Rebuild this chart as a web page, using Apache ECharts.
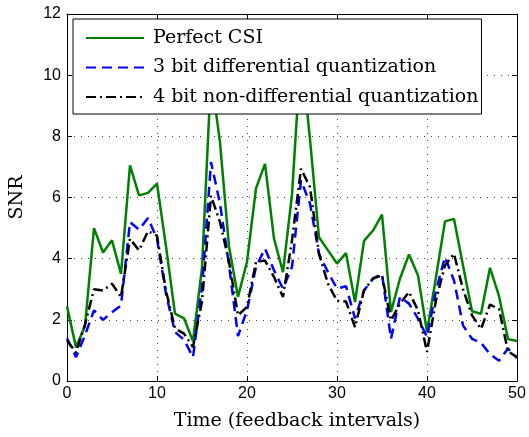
<!DOCTYPE html>
<html><head><meta charset="utf-8">
<script src="https://cdn.jsdelivr.net/npm/echarts@6/dist/echarts.min.js"></script>
<style>html,body{margin:0;padding:0;background:#fff}#c{width:529px;height:437px}</style>
</head><body><div id="c"></div>
<script>
// x values (feedback intervals)
const time = [0,1,2,3,4,5,6,7,8,9,10,11,12,13,14,15,16,17,18,19,20,21,22,23,24,25,26,27,28,29,30,31,32,33,34,35,36,37,38,39,40,41,42,43,44,45,46,47,48,49,50];
// SNR series
const perfectCSI = [2.44,1.1,1.8,5.0,4.2,4.6,3.5,7.05,6.07,6.15,6.45,4.4,2.2,2.05,1.3,3.7,10.0,7.8,4.4,2.75,3.9,6.3,7.1,4.65,3.56,6.1,10.8,7.9,4.7,4.27,3.84,4.18,2.58,4.58,4.92,5.44,2.26,3.35,4.14,3.45,1.6,3.4,5.22,5.3,3.78,2.28,2.2,3.7,2.78,1.37,1.31];
const diff3bit = [1.4,0.78,1.5,2.31,2.0,2.25,2.47,5.2,4.95,5.33,4.65,2.85,1.6,1.35,0.78,3.07,7.16,5.8,3.8,1.47,2.31,3.73,4.33,3.62,3.02,3.73,6.56,5.8,4.16,3.56,3.02,3.1,2.05,2.96,3.35,3.51,1.38,2.75,2.53,2.04,1.44,2.96,4.05,3.29,1.82,1.38,1.25,0.88,0.66,1.06,0.75];
const nondiff4bit = [1.33,0.93,1.85,3.0,2.96,3.18,2.75,4.65,4.27,4.9,4.75,2.95,1.72,1.55,1.11,2.6,6.05,5.2,3.9,2.15,2.42,3.89,3.94,3.4,2.75,4.6,6.94,6.34,4.16,3.18,2.62,2.6,1.76,2.96,3.35,3.45,1.98,2.53,2.91,2.31,0.95,2.64,3.78,4.16,3.0,2.15,1.7,2.5,2.35,0.97,0.78];
const seriesNames = ['Perfect CSI','3 bit differential quantization','4 bit non-differential quantization'];
const xMin = 0, xMax = 50, xStep = 10;
const yMin = 0, yMax = 12, yStep = 2;

const serif = '"DejaVu Serif", "Liberation Serif", serif';
const sans = '"Liberation Sans", Arial, sans-serif';
const chart = echarts.init(document.getElementById('c'), null, {renderer: 'canvas'});
const pairs = arr => time.map((t, i) => [t, arr[i]]);
const axisLine = {show: true, onZero: false, lineStyle: {color: '#000', width: 1}};
const axisTick = {show: true, inside: true, length: 5, lineStyle: {color: '#000', width: 1}};
const gridLine = {show: true, lineStyle: {color: '#444', width: 1, type: [1, 6]}};
const option = {
  animation: false,
  backgroundColor: '#fff',
  grid: {left: 67, right: 12, top: 14, bottom: 56},
  legend: {
    orient: 'vertical', left: 73, top: 19,
    padding: [9, 3, 7, 12],
    itemWidth: 58, itemHeight: 14, itemGap: 9.5,
    itemStyle: {opacity: 0},
    backgroundColor: '#fff', borderColor: '#000', borderWidth: 1,
    textStyle: {fontFamily: serif, fontSize: 19, color: '#000', lineHeight: 20, padding: [0, 0, 0, 4]},
    data: seriesNames
  },
  xAxis: [
    {type: 'value', min: xMin, max: xMax, interval: xStep, axisLine, axisTick,
     axisLabel: {color: '#000', fontFamily: sans, fontSize: 16, margin: 5},
     splitLine: gridLine,
     name: 'Time (feedback intervals)', nameLocation: 'middle', nameGap: 31,
     nameTextStyle: {fontFamily: serif, fontSize: 19, color: '#000', padding: [0, 0, 0, 10]}},
    {type: 'value', position: 'top', min: xMin, max: xMax, interval: xStep, axisLine, axisTick,
     axisLabel: {show: false}, splitLine: {show: false}}
  ],
  yAxis: [
    {type: 'value', min: yMin, max: yMax, interval: yStep, axisLine, axisTick,
     axisLabel: {color: '#000', fontFamily: sans, fontSize: 16, margin: 6},
     splitLine: gridLine,
     name: 'SNR', nameLocation: 'middle', nameGap: 40, nameRotate: 90,
     nameTextStyle: {fontFamily: serif, fontSize: 19, color: '#000'}},
    {type: 'value', position: 'right', min: yMin, max: yMax, interval: yStep, axisLine, axisTick,
     axisLabel: {show: false}, splitLine: {show: false}}
  ],
  series: [
    {name: seriesNames[0], type: 'line', data: pairs(perfectCSI), symbol: 'none',
     lineStyle: {color: '#008000', width: 2.5, type: 'solid'}, itemStyle: {color: '#008000'}},
    {name: seriesNames[1], type: 'line', data: pairs(diff3bit), symbol: 'none',
     lineStyle: {color: '#0000ff', width: 2.5, type: [10, 6]}, itemStyle: {color: '#0000ff'}},
    {name: seriesNames[2], type: 'line', data: pairs(nondiff4bit), symbol: 'none',
     lineStyle: {color: '#000', width: 2.5, type: [10, 4, 2, 4]}, itemStyle: {color: '#000'}}
  ]
};
chart.setOption(option);
</script></body></html>
